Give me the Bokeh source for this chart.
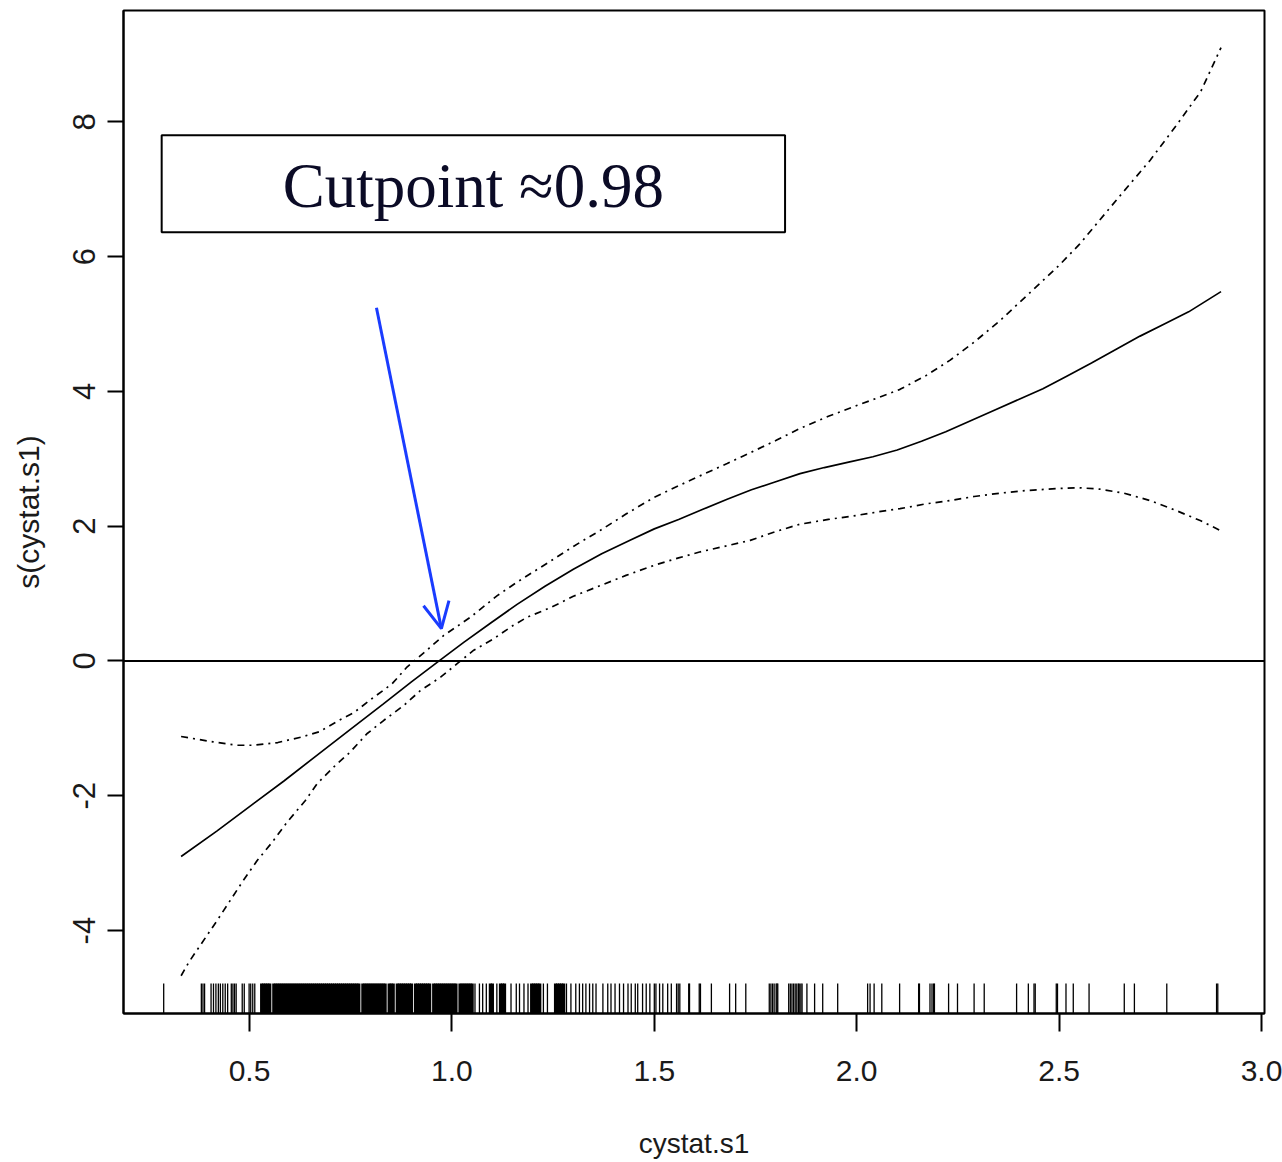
import math
from bokeh.plotting import figure
from bokeh.models import (Range1d, FixedTicker, Label, BoxAnnotation, Arrow, OpenHead)
from bokeh.embed import file_html
from bokeh.resources import INLINE

# Smooth term estimate s(cystat.s1) with its upper / lower bands
fit_x = [0.331, 0.420, 0.500, 0.585, 0.660, 0.750, 0.830, 0.900, 0.970, 1.030,
         1.095, 1.161, 1.230, 1.300, 1.370, 1.440, 1.500, 1.560, 1.620, 1.680,
         1.740, 1.800, 1.860, 1.920, 1.980, 2.040, 2.100, 2.160, 2.220, 2.280,
         2.340, 2.400, 2.460, 2.520, 2.580, 2.640, 2.700, 2.760, 2.820, 2.900]
fit_y = [-2.90, -2.52, -2.16, -1.78, -1.43, -1.01, -0.64, -0.31, 0.01, 0.28,
         0.56, 0.84, 1.11, 1.36, 1.59, 1.79, 1.96, 2.10, 2.25, 2.40,
         2.54, 2.66, 2.78, 2.87, 2.95, 3.03, 3.13, 3.26, 3.40, 3.56,
         3.72, 3.88, 4.04, 4.23, 4.42, 4.62, 4.82, 5.00, 5.18, 5.48]

upper_x = [0.331, 0.410, 0.470, 0.510, 0.570, 0.627, 0.672, 0.721, 0.757, 0.802,
           0.852, 0.889, 0.938, 0.980, 1.046, 1.112, 1.161, 1.243, 1.300, 1.367,
           1.430, 1.500, 1.560, 1.614, 1.680, 1.737, 1.800, 1.860, 1.930, 2.000,
           2.050, 2.107, 2.170, 2.230, 2.290, 2.354, 2.420, 2.500, 2.550, 2.600,
           2.660, 2.725, 2.790, 2.850, 2.900]
upper_y = [-1.12, -1.20, -1.25, -1.25, -1.21, -1.13, -1.05, -0.88, -0.77, -0.56,
           -0.34, -0.09, 0.16, 0.38, 0.65, 0.97, 1.17, 1.48, 1.70, 1.94,
           2.18, 2.43, 2.60, 2.75, 2.93, 3.09, 3.27, 3.45, 3.63, 3.79,
           3.90, 4.03, 4.23, 4.46, 4.73, 5.05, 5.42, 5.87, 6.18, 6.54,
           6.97, 7.43, 7.95, 8.45, 9.10]

lower_x = [0.331, 0.350, 0.377, 0.420, 0.482, 0.519, 0.556, 0.593, 0.638, 0.667,
           0.712, 0.749, 0.790, 0.832, 0.881, 0.922, 0.972, 1.013, 1.054, 1.103,
           1.152, 1.186, 1.243, 1.300, 1.367, 1.430, 1.500, 1.560, 1.614, 1.680,
           1.737, 1.800, 1.860, 1.930, 2.000, 2.050, 2.107, 2.170, 2.230, 2.290,
           2.354, 2.420, 2.500, 2.550, 2.600, 2.660, 2.725, 2.790, 2.850, 2.900]
lower_y = [-4.67, -4.47, -4.23, -3.85, -3.28, -2.96, -2.69, -2.39, -2.07, -1.82,
           -1.55, -1.35, -1.08, -0.88, -0.66, -0.44, -0.24, -0.04, 0.16, 0.33,
           0.53, 0.65, 0.79, 0.96, 1.12, 1.27, 1.42, 1.53, 1.62, 1.71,
           1.79, 1.92, 2.03, 2.10, 2.16, 2.21, 2.26, 2.33, 2.38, 2.44,
           2.49, 2.53, 2.56, 2.57, 2.55, 2.49, 2.38, 2.23, 2.08, 1.93]

# Observed cystat.s1 values shown as a rug (isolated observations)
rug_sparse = [0.288, 0.381, 0.385, 0.389, 0.405, 0.411, 0.417, 0.423, 0.428, 0.434,
              0.440, 0.446, 0.455, 0.459, 0.463, 0.467, 0.482, 0.487, 0.499, 0.503,
              0.508, 0.513,
              1.057, 1.068, 1.076, 1.085, 1.111, 1.146, 1.159, 1.167, 1.178, 1.188,
              1.226, 1.236, 1.283, 1.294, 1.306, 1.315, 1.323, 1.331, 1.340, 1.348,
              1.356, 1.373, 1.385, 1.393, 1.403, 1.414, 1.424, 1.435, 1.443, 1.453,
              1.459, 1.471, 1.480, 1.489, 1.500, 1.504, 1.513, 1.521, 1.533, 1.542,
              1.555, 1.559, 1.563, 1.585, 1.587, 1.611, 1.614, 1.641, 1.686, 1.701,
              1.726, 1.784, 1.788, 1.792, 1.796, 1.801, 1.803, 1.805, 1.832, 1.836,
              1.840, 1.844, 1.848, 1.852, 1.856, 1.858, 1.862, 1.865, 1.877, 1.896,
              1.916, 1.953, 2.027, 2.033, 2.043, 2.062, 2.106, 2.153, 2.155, 2.181,
              2.186, 2.190, 2.192, 2.227, 2.249, 2.290, 2.315, 2.395, 2.424, 2.438,
              2.441, 2.493, 2.496, 2.517, 2.535, 2.574, 2.661, 2.686, 2.766, 2.889,
              2.892]

# Crowded stretch of the rug, where neighbouring observations touch
rug_dense = [0.530, 0.535, 0.540, 0.545, 0.550, 0.560, 0.565, 0.570, 0.575, 0.580,
             0.585, 0.590, 0.595, 0.600, 0.605, 0.610, 0.615, 0.620, 0.625, 0.630,
             0.635, 0.640, 0.645, 0.650, 0.655, 0.660, 0.665, 0.670, 0.675, 0.680,
             0.685, 0.690, 0.695, 0.700, 0.705, 0.710, 0.715, 0.720, 0.725, 0.730,
             0.735, 0.740, 0.745, 0.750, 0.755, 0.760, 0.765, 0.770, 0.780, 0.785,
             0.790, 0.795, 0.800, 0.805, 0.810, 0.815, 0.820, 0.825, 0.830, 0.835,
             0.845, 0.850, 0.855, 0.865, 0.870, 0.875, 0.880, 0.885, 0.890, 0.895,
             0.900, 0.910, 0.915, 0.920, 0.925, 0.930, 0.935, 0.940, 0.945, 0.955,
             0.960, 0.965, 0.970, 0.975, 0.980, 0.985, 0.990, 0.995, 1.000, 1.005,
             1.010, 1.020, 1.025, 1.030, 1.035, 1.040, 1.045, 1.050,
             1.095, 1.100, 1.120, 1.125, 1.130, 1.197, 1.202, 1.207, 1.212, 1.217,
             1.256, 1.261, 1.266, 1.271, 1.276]

x_ticks = [0.5, 1.0, 1.5, 2.0, 2.5, 3.0]
x_tick_labels = ["0.5", "1.0", "1.5", "2.0", "2.5", "3.0"]
y_ticks = [-4, -2, 0, 2, 4, 6, 8]
y_tick_labels = ["-4", "-2", "0", "2", "4", "6", "8"]

cutpoint = 0.98

X_MIN, X_MAX = 0.1887, 3.0074
Y_MIN, Y_MAX = -5.230, 9.651
RUG_TOP = Y_MIN + 0.03 * (Y_MAX - Y_MIN)

p = figure(width=1282, height=1162, output_backend="svg", toolbar_location=None,
           x_range=Range1d(X_MIN, X_MAX), y_range=Range1d(Y_MIN, Y_MAX),
           min_border_left=123, min_border_right=18, min_border_top=10,
           min_border_bottom=149)
p.background_fill_color = "white"
p.border_fill_color = "white"
p.outline_line_color = "black"
p.outline_line_width = 2
p.xgrid.visible = False
p.ygrid.visible = False

sans = "Liberation Sans"

p.xaxis.ticker = FixedTicker(ticks=x_ticks)
p.xaxis.major_label_overrides = dict(zip(x_ticks, x_tick_labels))
p.xaxis.axis_label = "cystat.s1"
p.xaxis.major_tick_out = 18
p.xaxis.major_tick_in = 0
p.xaxis.major_label_standoff = 29
p.xaxis.axis_label_standoff = 44
p.xaxis.major_label_text_font = sans
p.xaxis.major_label_text_font_size = "30px"
p.xaxis.axis_label_text_font = sans
p.xaxis.axis_label_text_font_size = "28px"

p.yaxis.ticker = FixedTicker(ticks=y_ticks)
p.yaxis.major_label_overrides = dict(zip(y_ticks, y_tick_labels))
p.yaxis.axis_label = "s(cystat.s1)"
p.yaxis.major_tick_out = 16
p.yaxis.major_tick_in = 0
p.yaxis.major_label_standoff = 12
p.yaxis.major_label_orientation = "parallel"
p.yaxis.axis_label_standoff = 26
p.yaxis.major_label_text_font = sans
p.yaxis.major_label_text_font_size = "31px"
p.yaxis.axis_label_text_font = sans
p.yaxis.axis_label_text_font_size = "30px"

for ax in (p.xaxis, p.yaxis):
    ax.minor_tick_in = 0
    ax.minor_tick_out = 0
    ax.axis_line_color = "black"
    ax.axis_line_width = 2
    ax.major_tick_line_color = "black"
    ax.major_tick_line_width = 2
    ax.major_label_text_color = "#1a1a1a"
    ax.axis_label_text_color = "#1a1a1a"
    ax.axis_label_text_font_style = "normal"

# Reference line at zero
p.line(x=[X_MIN, X_MAX], y=[0, 0], line_color="black", line_width=2)

# Fitted smooth and its bands
p.line(x=fit_x, y=fit_y, line_color="black", line_width=1.7)
band_dash = "7 5 2 5"
p.line(x=upper_x, y=upper_y, line_color="black", line_width=1.7, line_dash=band_dash)
p.line(x=lower_x, y=lower_y, line_color="black", line_width=1.7, line_dash=band_dash)

# Rug of observations along the bottom
p.segment(x0=rug_sparse, y0=[Y_MIN] * len(rug_sparse), x1=rug_sparse,
          y1=[RUG_TOP] * len(rug_sparse), line_color="black", line_width=1.3)
p.segment(x0=rug_dense, y0=[Y_MIN] * len(rug_dense), x1=rug_dense,
          y1=[RUG_TOP] * len(rug_dense), line_color="black", line_width=3.2)

# Boxed note with the cut point
p.add_layout(BoxAnnotation(left=0.283, right=1.823, bottom=6.36, top=7.80,
                           fill_color="white", fill_alpha=1.0,
                           line_color="black", line_alpha=1.0, line_width=2,
                           level="overlay"))
p.add_layout(Label(x=1.053, y=7.05, text="Cutpoint \u22480.98",
                   text_align="center", text_baseline="middle",
                   text_font="Liberation Serif", text_font_size="63px",
                   text_color="#0b0b26", level="overlay"))

# Arrow pointing at the zero crossing near the cut point
p.add_layout(Arrow(end=OpenHead(size=26, line_color="#1a3cff", line_width=3),
                   x_start=0.8136, y_start=5.24, x_end=cutpoint - 0.006, y_end=0.48,
                   line_color="#1a3cff", line_width=3))

open("out.html", "w").write(file_html(p, INLINE))
